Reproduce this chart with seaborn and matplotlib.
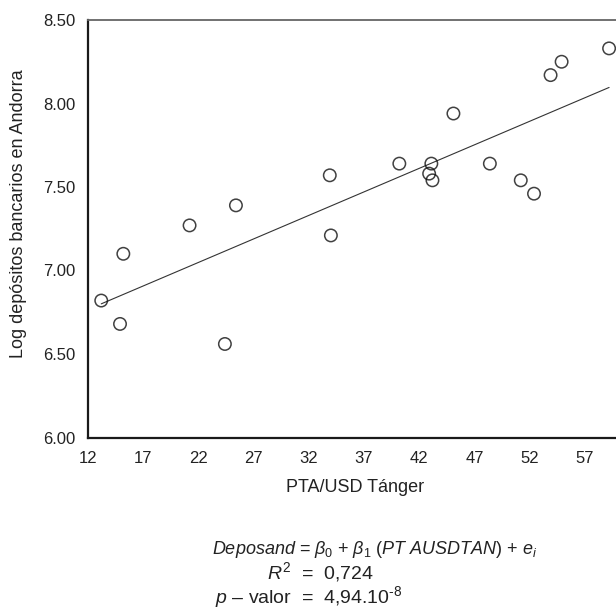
import matplotlib
matplotlib.use("Agg")
import matplotlib.pyplot as plt
import seaborn as sns
import pandas as pd

# -----------------------------
# Datos
# -----------------------------
pta_usd_tanger = [13.2, 14.9, 15.2, 21.2, 24.4, 25.4, 33.9, 34.0, 40.2, 42.9,
                  43.1, 43.2, 45.1, 48.4, 51.2, 52.4, 53.9, 54.9, 59.2]
log_depositos = [6.82, 6.68, 7.10, 7.27, 6.56, 7.39, 7.57, 7.21, 7.64, 7.58,
                 7.64, 7.54, 7.94, 7.64, 7.54, 7.46, 8.17, 8.25, 8.33]

x_ticks = [12, 17, 22, 27, 32, 37, 42, 47, 52, 57]
y_ticks = [6.0, 6.5, 7.0, 7.5, 8.0, 8.5]

df = pd.DataFrame({"x": pta_usd_tanger, "y": log_depositos})

sns.set_style("white")
plt.rcParams["font.family"] = ["Liberation Sans", "DejaVu Sans"]
plt.rcParams["mathtext.fontset"] = "custom"
plt.rcParams["mathtext.rm"] = "Liberation Sans"
plt.rcParams["mathtext.it"] = "Liberation Sans:italic"

W, H = 616, 613
fig = plt.figure(figsize=(W / 100, H / 100), dpi=100)

# Eje: el borde derecho queda fuera de la imagen (recortado como en el original)
left, right, top, bottom = 88, 640, 20, 437.5
ax = fig.add_axes([left / W, (H - bottom) / H, (right - left) / W, (bottom - top) / H])

sns.regplot(data=df, x="x", y="y", ax=ax, ci=None, color="black",
            scatter_kws=dict(s=80, facecolors="none", edgecolors="#111111", linewidths=1.1, zorder=3),
            line_kws=dict(color="#333333", lw=0.8))

ax.set_xlim(12, 62)
ax.set_ylim(6.0, 8.5)
ax.set_xticks(x_ticks)
ax.set_yticks(y_ticks)
ax.set_yticklabels([f"{v:.2f}" for v in y_ticks])
ax.tick_params(length=0, labelsize=12, colors="#222222")
ax.tick_params(axis="x", pad=10)
ax.tick_params(axis="y", pad=9)

for s in ["left", "bottom"]:
    ax.spines[s].set_linewidth(1.6)
    ax.spines[s].set_color("#1a1a1a")
ax.spines["top"].set_linewidth(1.3)
ax.spines["top"].set_color("#666666")
ax.spines["right"].set_visible(False)

ax.set_xlabel("PTA/USD Tánger", fontsize=13, color="#222222")
ax.set_ylabel("Log depósitos bancarios en Andorra", fontsize=13, color="#222222")
ax.xaxis.set_label_coords((355 - left) / (right - left), (bottom - 479) / (bottom - top))
ax.yaxis.set_label_coords((27 - left) / (right - left), (bottom - 214) / (bottom - top))

# Ecuación y estadísticos
fig.text(375 / W, (H - 554) / H, r"$Deposand$ = $\beta_0$ + $\beta_1$ ($PT\ AUSDTAN$) + $e_i$",
         ha="center", va="baseline", fontsize=13, color="#222222")
fig.text(320 / W, (H - 579) / H, r"$R^2$  =  0,724",
         ha="center", va="baseline", fontsize=14, color="#222222")
fig.text(309 / W, (H - 603) / H, r"$p$ – valor  =  4,94.10$^{\text{-}8}$",
         ha="center", va="baseline", fontsize=14, color="#222222")

fig.savefig("out.png", dpi=100)
